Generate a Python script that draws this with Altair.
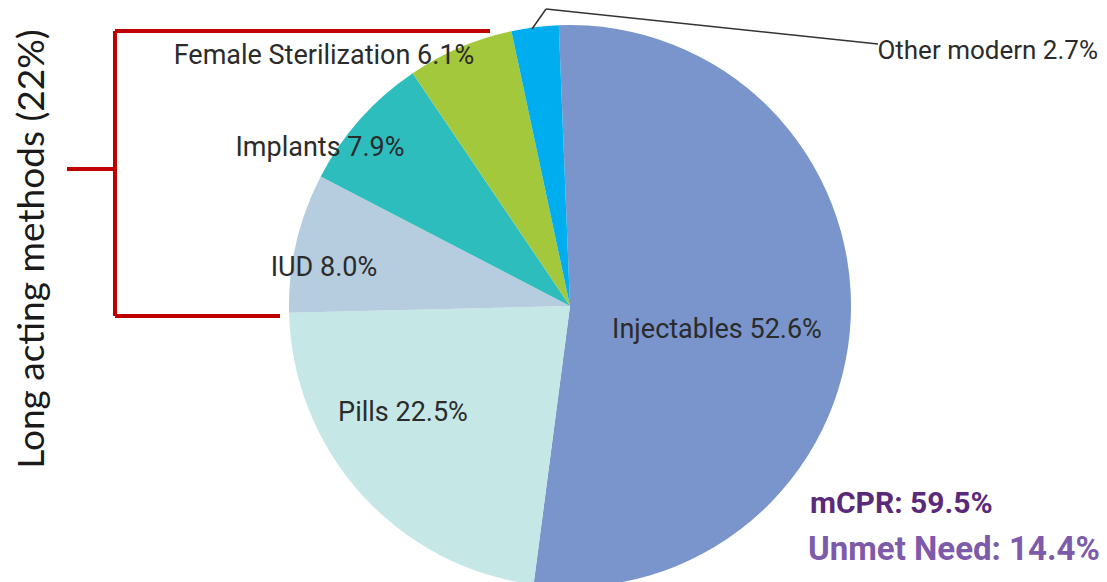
import math
import altair as alt
import pandas as pd

# ---- data ----
methods = ["Injectables", "Pills", "IUD", "Implants", "Female Sterilization", "Other modern"]
shares = [52.6, 22.5, 8.0, 7.9, 6.1, 2.7]
colors = ["#7a95cb", "#c5e7e6", "#b5cdde", "#2ebdbd", "#a3c83b", "#00adee"]
mcpr = 59.5
unmet = 14.4
long_acting = 22

OX, OY = 8, 8  # page margin -> chart coords

def px(x):
    return x - OX

def py(y):
    return y - OY

df = pd.DataFrame({"method": methods, "share": shares, "order": list(range(len(methods)))})

start = -0.04
pie = alt.Chart(df).mark_arc(outerRadius=281).encode(
    theta=alt.Theta("share:Q", stack=True,
                    scale=alt.Scale(domain=[0, sum(shares)], range=[start, start + 2 * math.pi])),
    color=alt.Color("method:N", scale=alt.Scale(domain=methods, range=colors), legend=None),
    order=alt.Order("order:Q"),
    x=alt.value(px(570)),
    y=alt.value(py(300)),
)

LABEL_FONT = "Roboto, sans-serif"

label_pos = {
    "Injectables": (717, 324, "center", 27),
    "Pills": (403, 407, "center", 27),
    "IUD": (324, 262, "center", 27),
    "Implants": (320, 142, "center", 27),
    "Female Sterilization": (324, 50, "center", 27),
    "Other modern": (1098, 45, "right", 26),
}

layers = [pie]
for m, v in zip(methods, shares):
    x, y, al, fs = label_pos[m]
    t = alt.Chart(pd.DataFrame({"t": [f"{m} {v:.1f}%"]})).mark_text(
        font=LABEL_FONT, fontSize=fs, color="#2b2b2b", align=al, baseline="middle"
    ).encode(text="t:N", x=alt.value(px(x)), y=alt.value(py(y)))
    layers.append(t)

# leader line for Other modern
def seg(x1, y1, x2, y2, color, width):
    return alt.Chart(pd.DataFrame({"a": [0]})).mark_rule(color=color, strokeWidth=width).encode(
        x=alt.value(px(x1)), x2=alt.value(px(x2)), y=alt.value(py(y1)), y2=alt.value(py(y2))
    )

layers.append(seg(532, 23, 546, 3, "#333333", 1.5))
layers.append(seg(546, 3, 878, 38, "#333333", 1.5))

# red bracket
RED = "#c00000"
layers.append(seg(115, 25, 490, 25, RED, 4))
layers.append(seg(115, 25, 115, 310, RED, 4))
layers.append(seg(115, 310, 280, 310, RED, 4))
layers.append(seg(67, 163, 115, 163, RED, 4))

layers.append(
    alt.Chart(pd.DataFrame({"t": [f"Long acting methods ({long_acting}%)"]})).mark_text(
        font="Lato, Open Sans, sans-serif", fontSize=37, color="#1a1a1a", angle=270,
        align="center", baseline="middle"
    ).encode(text="t:N", x=alt.value(px(33)), y=alt.value(py(243)))
)

layers.append(
    alt.Chart(pd.DataFrame({"t": [f"mCPR: {mcpr}%"]})).mark_text(
        font=LABEL_FONT, fontSize=30, fontWeight="bold", color="#5a2a7a", align="left", baseline="middle"
    ).encode(text="t:N", x=alt.value(px(810)), y=alt.value(py(498)))
)
layers.append(
    alt.Chart(pd.DataFrame({"t": [f"Unmet Need: {unmet}%"]})).mark_text(
        font=LABEL_FONT, fontSize=33, fontWeight="bold", color="#7d5aaa", align="left", baseline="middle"
    ).encode(text="t:N", x=alt.value(px(808)), y=alt.value(py(544)))
)

chart = alt.layer(*layers).properties(
    width=1091, height=574, padding=0,
    autosize=alt.AutoSizeParams(type="fit", contains="padding"),
).configure_view(stroke=None)

chart.save("out.html", embed_options={"renderer": "svg", "actions": False})
